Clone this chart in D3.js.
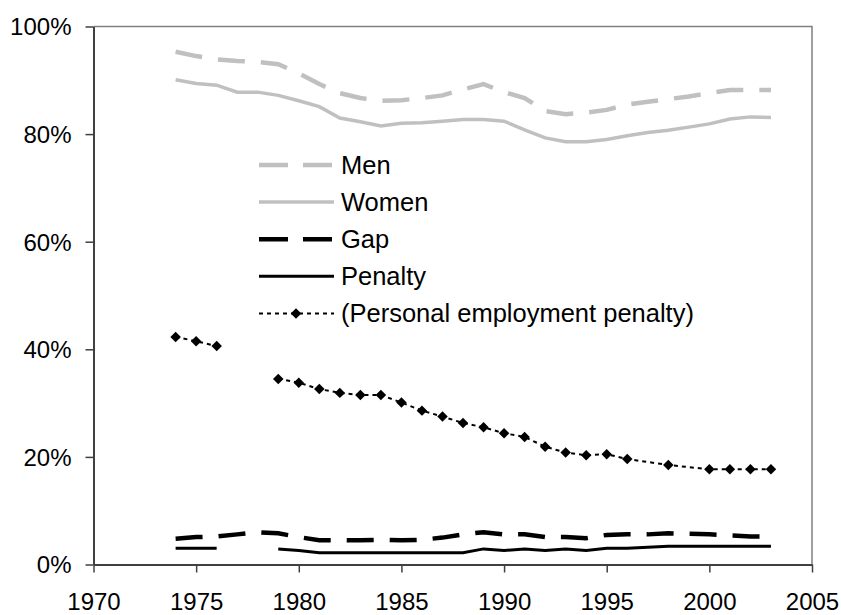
<!DOCTYPE html>
<html>
<head>
<meta charset="utf-8">
<script src="https://cdn.jsdelivr.net/npm/d3@7"></script>
<style>
  body { margin: 0; background: #fff; }
  svg { font-family: "Liberation Sans", Arial, sans-serif; }
</style>
</head>
<body>
<div id="chart"></div>
<script>
// Years covered by the yearly series
var years = d3.range(1974, 2004);

// Employment rates (%), one per year
var men = [95.3, 94.5, 93.9, 93.6, 93.4, 93.0, 91.3, 89.3, 87.6, 86.7,
           86.2, 86.3, 86.7, 87.2, 88.3, 89.3, 87.8, 86.7, 84.3, 83.7,
           84.0, 84.5, 85.5, 86.0, 86.5, 87.0, 87.6, 88.2, 88.2, 88.2];
var women = [90.1, 89.4, 89.1, 87.8, 87.8, 87.2, 86.2, 85.1, 83.0, 82.3,
             81.5, 82.0, 82.1, 82.4, 82.7, 82.7, 82.4, 80.8, 79.3, 78.6,
             78.6, 79.0, 79.7, 80.3, 80.7, 81.3, 81.9, 82.8, 83.2, 83.1];
var gap = [4.8, 5.1, 5.2, 5.6, 6.0, 5.8, 5.1, 4.5, 4.5, 4.5,
           4.6, 4.5, 4.6, 5.0, 5.6, 6.0, 5.6, 5.6, 5.1, 5.1,
           4.9, 5.5, 5.6, 5.6, 5.8, 5.7, 5.6, 5.4, 5.2, 5.2];
// null = no value (line breaks there)
var penalty = [3.0, 3.0, 3.0, null, null, 2.9, 2.6, 2.2, 2.2, 2.2,
               2.2, 2.2, 2.2, 2.2, 2.2, 2.9, 2.6, 2.9, 2.6, 2.9,
               2.6, 3.0, 3.0, 3.2, 3.4, 3.4, 3.4, 3.4, 3.4, 3.4];

// Personal employment penalty is only measured in some years
var personalYears = [1974, 1975, 1976, 1977, 1978, 1979, 1980, 1981, 1982, 1983,
                     1984, 1985, 1986, 1987, 1988, 1989, 1990, 1991, 1992, 1993,
                     1994, 1995, 1996, 1998, 2000, 2001, 2002, 2003];
var personal = [42.3, 41.5, 40.6, null, null, 34.5, 33.8, 32.6, 31.9, 31.5,
                31.5, 30.1, 28.6, 27.5, 26.3, 25.5, 24.4, 23.7, 21.9, 20.8,
                20.3, 20.5, 19.6, 18.5, 17.7, 17.7, 17.7, 17.7];

// Axis ticks
var xTicks = [1970, 1975, 1980, 1985, 1990, 1995, 2000, 2005];
var yTicks = [0, 20, 40, 60, 80, 100];

// Legend entries
var legendLabels = ["Men", "Women", "Gap", "Penalty", "(Personal employment penalty)"];

var svg = d3.select("#chart").append("svg")
    .attr("width", 841)
    .attr("height", 615);

var margin = {left: 93.5, top: 26.5, right: 29, bottom: 50.5};
var width = 841 - margin.left - margin.right;
var height = 615 - margin.top - margin.bottom;

var chart = svg.append("g")
    .attr("transform", "translate(" + margin.left + "," + margin.top + ")");

var x = d3.scaleLinear().domain([1970, 2005]).range([0, width]);
var y = d3.scaleLinear().domain([0, 100]).range([height, 0]);

// Plot area border (top and right)
chart.append("path")
    .attr("d", "M0,0H" + width + "V" + height)
    .attr("fill", "none")
    .attr("stroke", "#808080")
    .attr("stroke-width", 1.5);

// Axes
var xAxis = d3.axisBottom(x).tickValues(xTicks).tickSize(8).tickFormat(d3.format("d")).tickSizeOuter(0);
var yAxis = d3.axisLeft(y).tickValues(yTicks).tickSize(8).tickFormat(function (d) { return d + "%"; }).tickSizeOuter(0);

var gx = chart.append("g").attr("transform", "translate(0," + height + ")").call(xAxis);
var gy = chart.append("g").call(yAxis);

[gx, gy].forEach(function (g) {
    g.select(".domain").attr("stroke", "#404040").attr("stroke-width", 2);
    g.selectAll(".tick line").attr("stroke", "#404040").attr("stroke-width", 1.5);
    g.selectAll("text")
        .attr("fill", "#000")
        .style("font-family", "'Liberation Sans', Arial, sans-serif")
        .style("font-size", "24px");
});
gx.selectAll("text").attr("y", 28).attr("dy", "0.71em");
gy.selectAll("text").attr("x", -22).attr("dy", "0.35em");

// Line generator shared by all series
var line = d3.line()
    .defined(function (d) { return d[1] !== null; })
    .x(function (d) { return x(d[0]); })
    .y(function (d) { return y(d[1]); });

function pairs(xs, vs) {
    return xs.map(function (yr, i) { return [yr, vs[i]]; });
}

// Series styles
var series = [
    {data: pairs(years, men), color: "#c0c0c0", width: 4.5, dash: "27,16"},
    {data: pairs(years, women), color: "#c0c0c0", width: 3.5, dash: null},
    {data: pairs(years, gap), color: "#000", width: 4.5, dash: "27,16"},
    {data: pairs(years, penalty), color: "#000", width: 3, dash: null},
    {data: pairs(personalYears, personal), color: "#000", width: 2, dash: "4,4"}
];

series.forEach(function (s) {
    chart.append("path")
        .datum(s.data)
        .attr("d", line)
        .attr("fill", "none")
        .attr("stroke", s.color)
        .attr("stroke-width", s.width)
        .attr("stroke-dasharray", s.dash);
});

// Diamond markers for the personal penalty
var diamond = d3.symbol().type(d3.symbolDiamond2).size(70);
chart.append("g")
    .selectAll("path")
    .data(series[4].data.filter(function (d) { return d[1] !== null; }))
    .enter()
    .append("path")
    .attr("d", diamond)
    .attr("transform", function (d) { return "translate(" + x(d[0]) + "," + y(d[1]) + ")"; })
    .attr("fill", "#000");

// Legend
var legend = svg.append("g").attr("transform", "translate(259,165)");
var rows = legend.selectAll("g")
    .data(series)
    .enter()
    .append("g")
    .attr("transform", function (d, i) { return "translate(0," + (i * 37.1) + ")"; });

rows.append("line")
    .attr("x1", 0).attr("x2", 75)
    .attr("stroke", function (d) { return d.color; })
    .attr("stroke-width", function (d) { return d.width; })
    .attr("stroke-dasharray", function (d, i) { return i === 4 ? "4,4" : (d.dash ? "29,15" : null); });

rows.filter(function (d, i) { return i === 4; })
    .append("path")
    .attr("d", diamond)
    .attr("transform", "translate(37,0)")
    .attr("fill", "#000");

rows.append("text")
    .text(function (d, i) { return legendLabels[i]; })
    .attr("x", 82)
    .attr("dy", "0.35em")
    .style("font-size", "25.5px");
</script>
</body>
</html>
